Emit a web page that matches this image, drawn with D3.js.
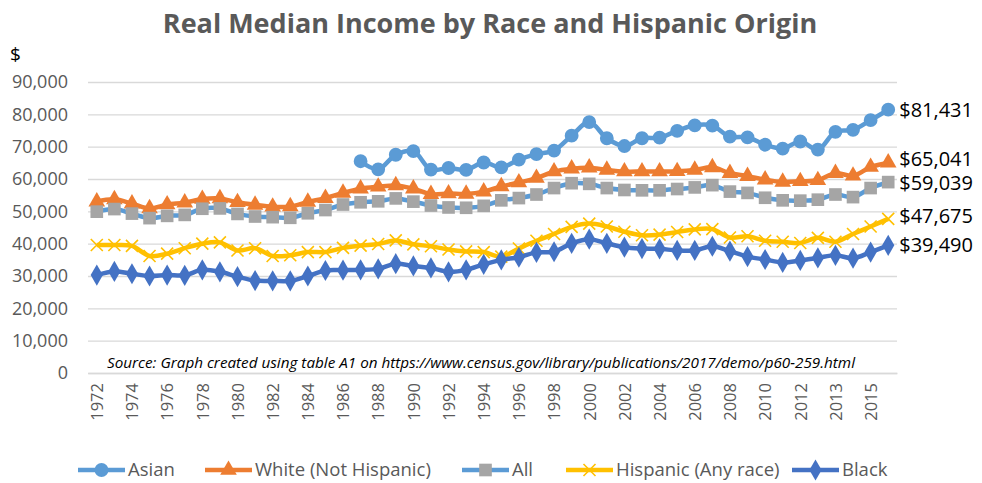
<!DOCTYPE html>
<html>
<head>
<meta charset="utf-8">
<script src="https://cdn.jsdelivr.net/npm/d3@7"></script>
<style>
  body { margin: 0; background: #fff; }
  text { font-family: "Open Sans", sans-serif; }
</style>
</head>
<body>
<div class="chart"></div>
<script>
// category labels (2013 appears twice in table A1)
const years = ["1972","1973","1974","1975","1976","1977","1978","1979","1980","1981",
  "1982","1983","1984","1985","1986","1987","1988","1989","1990","1991",
  "1992","1993","1994","1995","1996","1997","1998","1999","2000","2001",
  "2002","2003","2004","2005","2006","2007","2008","2009","2010","2011",
  "2012","2013","2013","2014","2015","2016"];

const asian = [null,null,null,null,null,null,null,null,null,null,
  null,null,null,null,null,65500,63000,67500,68600,62900,
  63400,62800,65100,63600,66000,67700,68800,73400,77600,72600,
  70200,72600,72800,74900,76600,76500,73100,72900,70600,69400,
  71600,69100,74600,75200,78200,81431];
const white = [53000,53700,52400,50900,52100,52700,53800,54000,52800,52000,
  51400,51500,52900,54100,55700,57000,57600,58000,57000,55300,
  55500,55400,56100,57700,58900,60300,62300,63200,63500,62800,
  62300,62300,62300,62400,62800,63600,61800,60900,59800,59100,
  59300,59600,61800,61000,63700,65041];
const all = [49900,50700,49300,47900,48600,48900,50800,50900,49200,48400,
  48200,48000,49400,50400,52100,52800,53100,54000,53000,51800,
  51200,51100,51700,53400,54100,55200,57200,58700,58500,57200,
  56600,56500,56500,56900,57400,58100,56100,55700,54200,53400,
  53300,53600,55200,54400,57200,59039];
const hispanic = [39600,39600,39300,36200,36900,38600,40000,40400,37900,38600,
  36200,36400,37400,37400,38700,39400,39900,41000,39800,39200,
  38200,37600,37400,36000,38500,40900,43000,45200,46200,45300,
  43700,42600,42800,43600,44400,44500,41900,42300,40900,40600,
  40200,41800,40600,43000,45300,47675];
const black = [30300,31400,30700,30000,30300,30200,31900,31300,29800,28600,
  28500,28500,30000,31700,31800,31900,32200,33800,33100,32500,
  31300,31900,33600,35000,35800,37300,37500,40100,41400,40100,
  38900,38500,38400,37900,37900,39200,37700,36000,35100,34200,
  34800,35600,36400,35500,37400,39490];

const seriesNames = ["Asian", "White (Not Hispanic)", "All", "Hispanic (Any race)", "Black"];
const yTicks = [0,10000,20000,30000,40000,50000,60000,70000,80000,90000];

const W = 982, H = 483;
const margin = {top: 82, left: 88, right: 85, bottom: 110};
const width = W - margin.left - margin.right;
const height = H - margin.top - margin.bottom;

const svg = d3.select(".chart").append("svg")
    .attr("width", W)
    .attr("height", H);

const g = svg.append("g")
    .attr("transform", `translate(${margin.left},${margin.top})`);

const xScale = d3.scalePoint()
    .domain(d3.range(years.length))
    .range([0, width])
    .padding(0.5);

const yScale = d3.scaleLinear()
    .domain([0, 90000])
    .range([height, 0]);

// gridlines
g.append("g")
    .attr("class", "grid")
    .call(d3.axisLeft(yScale).tickValues(yTicks).tickSize(-width).tickFormat(""))
    .call(a => a.select(".domain").remove())
    .selectAll("line")
    .attr("stroke", "#d9d9d9")
    .attr("stroke-width", 1.3);

// y axis labels
g.append("g")
    .attr("class", "axis y-axis")
    .call(d3.axisLeft(yScale).tickValues(yTicks).tickSize(0).tickPadding(20).tickFormat(d3.format(",")))
    .call(a => a.select(".domain").remove())
    .selectAll("text")
    .attr("fill", "#595959")
    .style("font-size", "18px");

// x axis
const xAxis = g.append("g")
    .attr("class", "axis x-axis")
    .attr("transform", `translate(0,${height})`)
    .call(d3.axisBottom(xScale)
        .tickValues(d3.range(0, years.length, 2))
        .tickSize(0)
        .tickFormat(i => years[i]));
xAxis.select(".domain").attr("stroke", "#d9d9d9").attr("stroke-width", 1.3);
xAxis.selectAll("text")
    .attr("fill", "#595959")
    .style("font-size", "16.5px")
    .attr("text-anchor", "end")
    .attr("transform", "rotate(-90)")
    .attr("x", -10)
    .attr("y", 0)
    .attr("dy", "0.35em");

// source note
g.append("text")
    .attr("x", 19)
    .attr("y", 286)
    .attr("font-style", "italic")
    .attr("font-size", 14.5)
    .attr("textLength", 748)
    .attr("lengthAdjust", "spacingAndGlyphs")
    .attr("fill", "#000")
    .text("Source: Graph created using table A1 on https://www.census.gov/library/publications/2017/demo/p60-259.html");

const symbols = {
    circle: d3.symbol().type(d3.symbolCircle).size(150)(),
    triangle: d3.symbol().type(d3.symbolTriangle).size(120)(),
    square: d3.symbol().type(d3.symbolSquare).size(160)(),
    times: "M-6,-6L6,6M-6,6L6,-6",
    diamond: d3.symbol().type(d3.symbolDiamond).size(130)()
};

const series = [
    {name: seriesNames[0], values: asian, line: "#5b9bd5", mark: "#5b9bd5", sym: "circle"},
    {name: seriesNames[1], values: white, line: "#ed7d31", mark: "#ed7d31", sym: "triangle"},
    {name: seriesNames[2], values: all, line: "#5b9bd5", mark: "#a5a5a5", sym: "square"},
    {name: seriesNames[3], values: hispanic, line: "#ffc000", mark: "#ffc000", sym: "times"},
    {name: seriesNames[4], values: black, line: "#4472c4", mark: "#4472c4", sym: "diamond"}
];

const line = d3.line()
    .defined(d => d != null)
    .x((d, i) => xScale(i))
    .y(d => yScale(d))
    .curve(d3.curveCatmullRom);

function drawMark(sel, s) {
    if (s.sym === "times") {
        sel.attr("d", symbols.times).attr("fill", "none")
            .attr("stroke", s.mark).attr("stroke-width", 1.6);
    } else {
        sel.attr("d", symbols[s.sym]).attr("fill", s.mark);
    }
}

series.forEach(s => {
    const sg = g.append("g");
    sg.append("path")
        .datum(s.values)
        .attr("d", line)
        .attr("fill", "none")
        .attr("stroke", s.line)
        .attr("stroke-width", 4.5)
        .attr("stroke-linejoin", "round");
    sg.selectAll("path.mark")
        .data(s.values.map((v, i) => ({v, i})).filter(d => d.v != null))
        .join("path")
        .attr("class", "mark")
        .attr("transform", d => `translate(${xScale(d.i)},${yScale(d.v)})`)
        .call(drawMark, s);
});

// end value labels
const last = years.length - 1;
const endOffsets = [0, -4, 1, -3, 0];
series.forEach((s, k) => {
    g.append("text")
        .attr("x", xScale(last) + 11)
        .attr("y", yScale(s.values[last]) + endOffsets[k])
        .attr("dy", "0.35em")
        .attr("font-size", 20)
        .attr("fill", "#000")
        .text("$" + d3.format(",")(s.values[last]));
});

// title and "$"
svg.append("text")
    .attr("x", 490)
    .attr("y", 33)
    .attr("text-anchor", "middle")
    .attr("font-size", 27)
    .attr("font-weight", 700)
    .attr("fill", "#595959")
    .text("Real Median Income by Race and Hispanic Origin");

svg.append("text")
    .attr("x", 10)
    .attr("y", 61)
    .attr("font-size", 19)
    .attr("fill", "#000")
    .text("$");

// legend
const legendX = [78, 205, 462, 566, 792];
const legend = svg.append("g").attr("transform", "translate(0,470)");
series.forEach((s, k) => {
    const lg = legend.append("g").attr("transform", `translate(${legendX[k]},0)`);
    lg.append("line")
        .attr("x1", 0).attr("x2", 47)
        .attr("stroke", s.line)
        .attr("stroke-width", 4.5);
    lg.append("path")
        .attr("transform", "translate(23.5,0)")
        .call(drawMark, s);
    lg.append("text")
        .attr("x", 50)
        .attr("dy", "0.35em")
        .attr("font-size", 18.5)
        .attr("fill", "#595959")
        .text(s.name);
});
</script>
</body>
</html>
